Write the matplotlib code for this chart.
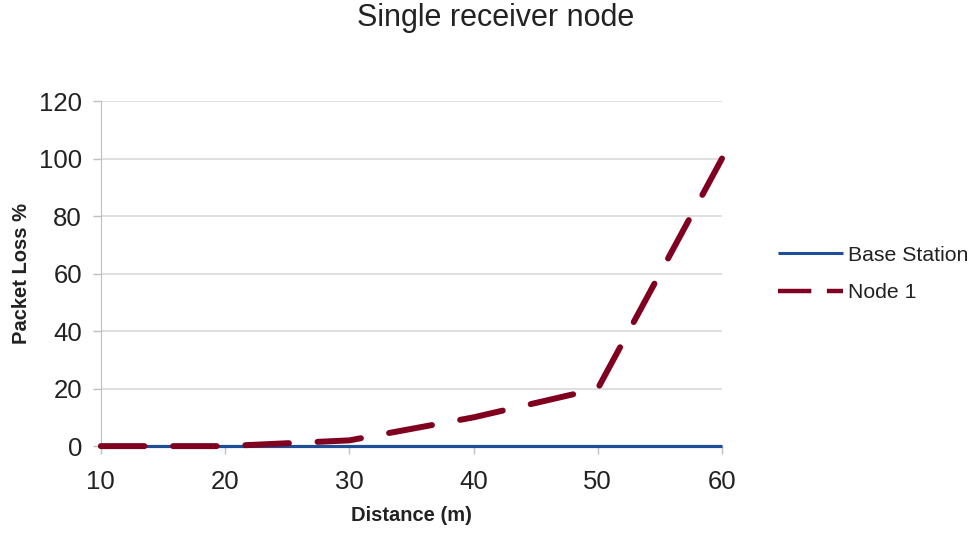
import matplotlib
matplotlib.use("Agg")
import matplotlib.pyplot as plt

plt.rcParams['font.family'] = ['Liberation Sans', 'DejaVu Sans']

distance = [10, 20, 30, 40, 50, 60]
base_station = [0, 0, 0, 0, 0, 0]
node1 = [0, 0, 2, 10, 20, 100]
y_ticks = [0, 20, 40, 60, 80, 100, 120]

fig = plt.figure(figsize=(9.79, 5.33), dpi=100)
ax = fig.add_axes([0.103, 0.163, 0.6345, 0.6475])

ax.plot(distance, base_station, color='#1f4e96', lw=2.3, label='Base Station',
        solid_capstyle='butt', zorder=3, clip_on=False)
ax.plot(distance, node1, color='#800020', lw=4.3, dashes=(7.3, 4.8), label='Node 1',
        dash_capstyle='round', zorder=4, clip_on=False)

ax.set_xlim(10, 60)
ax.set_ylim(0, 120)
ax.set_yticks(y_ticks)
ax.set_xticks(distance)
ax.grid(axis='y', color='#d9d9d9', lw=1.2)
ax.set_axisbelow(True)
for s in ['top', 'right']:
    ax.spines[s].set_visible(False)
ax.spines['left'].set_color('#bfbfbf')
ax.spines['bottom'].set_color('#bfbfbf')
ax.tick_params(axis='both', colors='#bfbfbf', labelcolor='#222222', labelsize=18.5, length=5.5, width=1)
ax.tick_params(axis='y', pad=8)
ax.tick_params(axis='x', pad=12)

ax.set_xlabel('Distance (m)', fontsize=14.5, fontweight='bold', labelpad=8, color='#222222')
ax.set_ylabel('Packet Loss %', fontsize=14.5, fontweight='bold', labelpad=6, color='#222222')
fig.suptitle('Single receiver node', fontsize=22, x=0.506, y=0.995, color='#222222')

leg = fig.legend(loc='center left', bbox_to_anchor=(778 / 979, 0.486), frameon=False,
                 fontsize=15.3, handlelength=3.05, handletextpad=0.25, labelspacing=0.85,
                 borderpad=0, borderaxespad=0)
for t in leg.get_texts():
    t.set_color('#222222')
leg_lines = leg.get_lines()
leg_lines[0].set_linewidth(2.2)
leg_lines[1].set_linewidth(3.2)
leg_lines[1].set_dashes((7.5, 3.5))
leg_lines[1].set_dash_capstyle('butt')

fig.savefig('out.png', dpi=100)
